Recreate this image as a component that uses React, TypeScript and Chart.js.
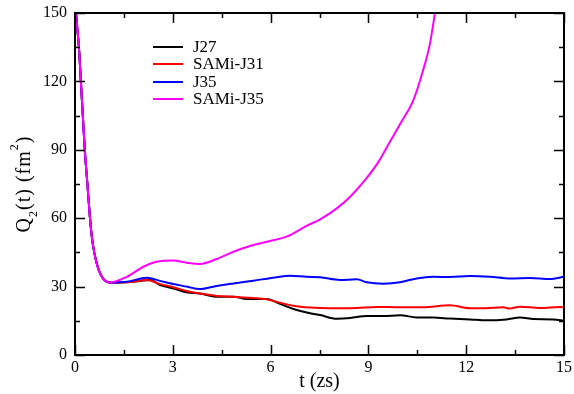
import React, { useEffect, useRef } from "react";
import { Chart, registerables } from "chart.js";

Chart.register(...registerables);

// shared initial decay (all four curves coincide)
const tStart = [0, 0.03, 0.12, 0.18, 0.24, 0.3, 0.38, 0.46, 0.52, 0.59, 0.68, 0.77, 0.87, 0.97, 1.07];
const qStart = [157, 150, 135, 120, 105, 90, 75, 60, 51.5, 45, 39.5, 35.8, 33.4, 32.2, 31.8];

const tJ27 = [1.59, 2.0, 2.3, 2.61, 3.02, 3.42, 3.83, 4.35, 4.86, 5.27, 5.88, 6.29, 6.7, 7.21, 7.52, 8.03, 8.44, 8.95, 9.46, 9.97, 10.48, 10.99, 11.5, 12.12, 12.63, 13.24, 13.65, 14.06, 14.67, 15];
const qJ27 = [31.9, 32.5, 32.9, 30.7, 29.2, 27.5, 27.0, 25.6, 25.6, 24.6, 24.6, 22.4, 20.2, 18.3, 17.5, 15.9, 16.2, 17.1, 17.1, 17.4, 16.5, 16.4, 16.0, 15.6, 15.2, 15.6, 16.4, 15.8, 15.6, 15.0];

const tSAMiJ31 = [1.59, 2.2, 2.61, 3.02, 3.42, 3.83, 4.35, 4.86, 5.47, 5.88, 6.29, 6.7, 7.21, 7.52, 8.13, 8.64, 9.25, 9.97, 10.68, 11.5, 12.12, 12.58, 13.14, 13.34, 13.65, 14.26, 14.88, 15];
const qSAMiJ31 = [31.9, 32.9, 31.1, 29.7, 28.1, 27.0, 25.9, 25.6, 25.0, 24.4, 22.9, 21.6, 20.8, 20.6, 20.5, 20.6, 21.1, 20.9, 20.9, 21.8, 20.5, 20.5, 20.9, 20.4, 21.2, 20.6, 21.1, 20.8];

const tJ35 = [1.59, 2.2, 2.61, 3.02, 3.42, 3.83, 4.35, 4.86, 5.47, 6.08, 6.6, 7.1, 7.52, 8.13, 8.64, 8.95, 9.46, 9.97, 10.48, 10.99, 11.5, 12.12, 12.73, 13.34, 13.96, 14.57, 15];
const qJ35 = [32.1, 33.9, 32.5, 31.1, 30.0, 28.9, 30.3, 31.4, 32.6, 33.9, 34.8, 34.3, 34.1, 32.9, 33.2, 31.9, 31.3, 31.9, 33.6, 34.3, 34.2, 34.6, 34.3, 33.6, 33.8, 33.3, 34.3];

const tSAMiJ35 = [1.59, 2.1, 2.5, 3.02, 3.42, 3.83, 4.35, 4.86, 5.37, 5.98, 6.49, 7.1, 7.52, 8.03, 8.44, 8.9, 9.3, 9.66, 10.0, 10.38, 10.68, 10.89, 11.04, 11.15];
const qSAMiJ35 = [34.3, 38.7, 40.9, 41.4, 40.5, 39.9, 42.1, 45.3, 47.8, 50.0, 51.9, 56.6, 59.5, 64.3, 69.4, 76.8, 84.5, 93.5, 102, 111.8, 125, 136.7, 149.9, 160];

const seriesLabels = ["J27", "SAMi-J31", "J35", "SAMi-J35"];
const seriesColors = ["#000000", "#ff0000", "#0000ff", "#ff00ff"];

const xMajorTicks = [0, 3, 6, 9, 12, 15];
const xMinorTicks = [1.5, 4.5, 7.5, 10.5, 13.5];
const yMajorTicks = [0, 30, 60, 90, 120, 150];
const yMinorTicks = [15, 45, 75, 105, 135];

const xTitle = "t (zs)";

const FONT = "'Liberation Serif', 'Times New Roman', serif";

function toPoints(t: number[], q: number[]) {
  return [
    ...tStart.map((x, i) => ({ x, y: qStart[i] })),
    ...t.map((x, i) => ({ x, y: q[i] })),
  ];
}

const framePlugin = {
  id: "frame",
  afterDraw(chart: any) {
    const { ctx, chartArea, scales } = chart;
    const { left, right, top, bottom } = chartArea;
    const xs = scales.x;
    const ys = scales.y;
    ctx.save();
    ctx.strokeStyle = "#000";
    ctx.lineWidth = 2;
    ctx.strokeRect(left, top, right - left, bottom - top);
    ctx.lineWidth = 1.5;
    const major = 10;
    const minor = 5;
    ctx.beginPath();
    const xt = (v: number, len: number) => {
      const px = Math.round(xs.getPixelForValue(v)) + 0.5;
      ctx.moveTo(px, bottom);
      ctx.lineTo(px, bottom - len);
      ctx.moveTo(px, top);
      ctx.lineTo(px, top + len);
    };
    const yt = (v: number, len: number) => {
      const py = Math.round(ys.getPixelForValue(v)) + 0.5;
      ctx.moveTo(left, py);
      ctx.lineTo(left + len, py);
      ctx.moveTo(right, py);
      ctx.lineTo(right - len, py);
    };
    xMajorTicks.forEach((v) => xt(v, major));
    xMinorTicks.forEach((v) => xt(v, minor));
    yMajorTicks.forEach((v) => yt(v, major));
    yMinorTicks.forEach((v) => yt(v, minor));
    ctx.stroke();

    // legend
    ctx.font = `17px ${FONT}`;
    ctx.textBaseline = "middle";
    ctx.textAlign = "left";
    const legendY = [47, 64, 82, 99];
    seriesLabels.forEach((lab, i) => {
      ctx.strokeStyle = seriesColors[i];
      ctx.lineWidth = 2;
      ctx.beginPath();
      ctx.moveTo(153, legendY[i]);
      ctx.lineTo(183, legendY[i]);
      ctx.stroke();
      ctx.fillStyle = "#000";
      ctx.fillText(lab, 193, legendY[i] + 1);
    });

    // x title
    ctx.font = `20px ${FONT}`;
    ctx.textAlign = "center";
    ctx.textBaseline = "middle";
    ctx.fillText(xTitle, (left + right) / 2, 382);

    // y title with sub/superscript
    ctx.save();
    ctx.translate(30, (top + bottom) / 2);
    ctx.rotate(-Math.PI / 2);
    ctx.textAlign = "left";
    ctx.textBaseline = "alphabetic";
    const parts = [
      { s: "Q", f: 20, dy: 0 },
      { s: "2", f: 12, dy: 7 },
      { s: "(t) (fm", f: 20, dy: 0 },
      { s: "2", f: 12, dy: -12 },
      { s: ")", f: 20, dy: 0 },
    ];
    (ctx as any).letterSpacing = "1px";
    let total = 0;
    parts.forEach((p) => {
      ctx.font = `${p.f}px ${FONT}`;
      total += ctx.measureText(p.s).width;
    });
    let x = -total / 2;
    parts.forEach((p) => {
      ctx.font = `${p.f}px ${FONT}`;
      ctx.fillText(p.s, x, p.dy);
      x += ctx.measureText(p.s).width;
    });
    ctx.restore();
    ctx.restore();
  },
};

export default function App() {
  const ref = useRef<HTMLCanvasElement | null>(null);
  useEffect(() => {
    if (!ref.current) return;
    const seriesT = [tJ27, tSAMiJ31, tJ35, tSAMiJ35];
    const seriesQ = [qJ27, qSAMiJ31, qJ35, qSAMiJ35];
    const chart = new Chart(ref.current, {
      type: "line",
      data: {
        datasets: seriesLabels.map((label, i) => ({
          label,
          data: toPoints(seriesT[i], seriesQ[i]),
          borderColor: seriesColors[i],
          backgroundColor: seriesColors[i],
          borderWidth: 2,
          pointRadius: 0,
          cubicInterpolationMode: "monotone" as const,
          fill: false,
          order: 4 - i,
        })),
      },
      options: {
        responsive: false,
        animation: false,
        devicePixelRatio: 1,
        layout: { padding: { top: 13, right: 10, left: 0, bottom: 0 } },
        plugins: { legend: { display: false }, tooltip: { enabled: false } },
        scales: {
          x: {
            type: "linear",
            min: 0,
            max: 15,
            afterFit: (s: any) => {
              s.height = 39;
              s.paddingLeft = 0;
              s.paddingRight = 0;
            },
            grid: { display: false, drawTicks: false },
            border: { display: false },
            ticks: {
              stepSize: 3,
              autoSkip: false,
              maxRotation: 0,
              padding: 3,
              color: "#000",
              font: { family: FONT, size: 16 },
            },
          },
          y: {
            type: "linear",
            min: 0,
            max: 150,
            afterFit: (s: any) => {
              s.width = 75;
              s.paddingTop = 0;
              s.paddingBottom = 0;
            },
            grid: { display: false, drawTicks: false },
            border: { display: false },
            ticks: {
              stepSize: 30,
              padding: 8,
              color: "#000",
              font: { family: FONT, size: 16 },
            },
          },
        },
      },
      plugins: [framePlugin],
    });
    return () => chart.destroy();
  }, []);
  return (
    <div style={{ position: "fixed", left: 0, top: 0, width: 574, height: 394, background: "#fff" }}>
      <canvas ref={ref} width={574} height={394} style={{ width: 574, height: 394, display: "block" }} />
    </div>
  );
}
